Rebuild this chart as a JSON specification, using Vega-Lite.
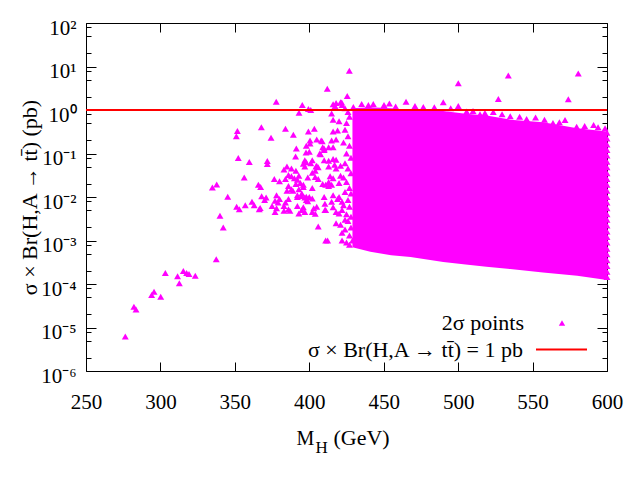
{
  "$schema": "https://vega.github.io/schema/vega-lite/v6.json",
  "description": "sigma x Br(H,A -> ttbar) against M_H, 2 sigma points with the 1 pb line",
  "width": 521,
  "height": 348,
  "autosize": {"type": "none"},
  "padding": {"left": 86, "top": 23, "right": 33, "bottom": 109},
  "background": "white",
  "config": {
    "font": "Liberation Serif",
    "view": {"stroke": null},
    "axis": {
      "grid": false,
      "domainColor": "black",
      "domainWidth": 1,
      "tickColor": "black",
      "tickWidth": 1,
      "labelColor": "black",
      "titleColor": "black",
      "labelFont": "Liberation Serif",
      "titleFont": "Liberation Serif",
      "labelFontSize": 21,
      "titleFontSize": 22,
      "titleFontWeight": "normal",
      "labelFlush": false,
      "labelOverlap": false
    },
    "legend": {
      "labelFont": "Liberation Serif",
      "labelFontSize": 22,
      "labelColor": "black",
      "labelLimit": 0,
      "padding": 0
    }
  },
  "datasets": {
    "band": [
      {"mh": 429, "lo": 0.0007, "hi": 1.1},
      {"mh": 441, "lo": 0.00055, "hi": 1.15},
      {"mh": 455, "lo": 0.00046, "hi": 1.1},
      {"mh": 468, "lo": 0.00042, "hi": 1.0},
      {"mh": 490, "lo": 0.00032, "hi": 0.95},
      {"mh": 505, "lo": 0.00028, "hi": 0.82},
      {"mh": 519, "lo": 0.00025, "hi": 0.75},
      {"mh": 535, "lo": 0.00022, "hi": 0.6},
      {"mh": 557, "lo": 0.000185, "hi": 0.52},
      {"mh": 580, "lo": 0.000155, "hi": 0.38},
      {"mh": 600, "lo": 0.000123, "hi": 0.32}
    ],
    "pts": [
      {"mh": 276.4, "xs": 6.2e-6}, {"mh": 282.2, "xs": 3.0e-5}, {"mh": 283.6, "xs": 2.6e-5},
      {"mh": 294.1, "xs": 5.6e-5}, {"mh": 295.7, "xs": 6.6e-5}, {"mh": 300.2, "xs": 5.1e-5},
      {"mh": 303.3, "xs": 1.8e-4}, {"mh": 311.5, "xs": 1.5e-4}, {"mh": 312.7, "xs": 1.04e-4},
      {"mh": 315.4, "xs": 2.0e-4}, {"mh": 317.6, "xs": 1.8e-4}, {"mh": 319.2, "xs": 1.7e-4},
      {"mh": 323.4, "xs": 1.55e-4}, {"mh": 337.5, "xs": 3.7e-4}, {"mh": 340.0, "xs": 0.0037},
      {"mh": 342.2, "xs": 0.002}, {"mh": 334.9, "xs": 0.0166}, {"mh": 337.8, "xs": 0.0195},
      {"mh": 345.2, "xs": 0.0102},
      {"mh": 351.7, "xs": 0.33}, {"mh": 351.0, "xs": 0.25}, {"mh": 352.3, "xs": 0.079},
      {"mh": 356.3, "xs": 0.028}, {"mh": 359.7, "xs": 0.064}, {"mh": 351.2, "xs": 0.006},
      {"mh": 353.0, "xs": 0.0052}, {"mh": 357.0, "xs": 0.0065}, {"mh": 361.5, "xs": 0.0078},
      {"mh": 366.4, "xs": 0.0052}, {"mh": 363.0, "xs": 0.0065}, {"mh": 367.0, "xs": 0.0056},
      {"mh": 365.8, "xs": 0.019}, {"mh": 367.3, "xs": 0.017}, {"mh": 367.8, "xs": 0.4},
      {"mh": 371.8, "xs": 0.067}, {"mh": 371.8, "xs": 0.057}, {"mh": 374.3, "xs": 0.23},
      {"mh": 376.5, "xs": 0.026}, {"mh": 377.8, "xs": 1.55}, {"mh": 384.0, "xs": 0.37},
      {"mh": 389.3, "xs": 0.27}, {"mh": 395.3, "xs": 1.3}, {"mh": 393.1, "xs": 0.87},
      {"mh": 399.4, "xs": 1.05}, {"mh": 401.0, "xs": 1.0}, {"mh": 399.4, "xs": 0.32},
      {"mh": 403.4, "xs": 0.37}, {"mh": 400.5, "xs": 0.2}, {"mh": 400.5, "xs": 0.17},
      {"mh": 408.7, "xs": 0.19}, {"mh": 410.0, "xs": 0.13}, {"mh": 391.3, "xs": 0.13},
      {"mh": 397.8, "xs": 0.105}, {"mh": 390.8, "xs": 0.085}, {"mh": 407.6, "xs": 0.096},
      {"mh": 398.0, "xs": 0.063}, {"mh": 401.0, "xs": 0.06}, {"mh": 396.0, "xs": 0.058},
      {"mh": 385.0, "xs": 0.05}, {"mh": 388.0, "xs": 0.045}, {"mh": 391.0, "xs": 0.04},
      {"mh": 383.0, "xs": 0.043}, {"mh": 404.5, "xs": 0.05}, {"mh": 404.0, "xs": 0.04},
      {"mh": 402.0, "xs": 0.036}, {"mh": 388.0, "xs": 0.03}, {"mh": 393.0, "xs": 0.031},
      {"mh": 390.0, "xs": 0.027}, {"mh": 386.0, "xs": 0.032}, {"mh": 392.0, "xs": 0.025},
      {"mh": 394.0, "xs": 0.021}, {"mh": 391.0, "xs": 0.02}, {"mh": 396.0, "xs": 0.019},
      {"mh": 399.0, "xs": 0.028}, {"mh": 406.0, "xs": 0.026}, {"mh": 411.0, "xs": 0.019},
      {"mh": 380.0, "xs": 0.023}, {"mh": 384.0, "xs": 0.026}, {"mh": 386.0, "xs": 0.018},
      {"mh": 388.0, "xs": 0.015}, {"mh": 385.0, "xs": 0.014}, {"mh": 389.0, "xs": 0.014},
      {"mh": 393.0, "xs": 0.015}, {"mh": 395.0, "xs": 0.012}, {"mh": 392.0, "xs": 0.011},
      {"mh": 368.0, "xs": 0.0104}, {"mh": 371.0, "xs": 0.0098}, {"mh": 370.0, "xs": 0.0085},
      {"mh": 378.0, "xs": 0.011}, {"mh": 380.0, "xs": 0.009}, {"mh": 377.0, "xs": 0.0082},
      {"mh": 379.0, "xs": 0.0075}, {"mh": 384.0, "xs": 0.0075}, {"mh": 386.0, "xs": 0.009},
      {"mh": 392.0, "xs": 0.01}, {"mh": 395.0, "xs": 0.0105}, {"mh": 397.0, "xs": 0.0098},
      {"mh": 400.0, "xs": 0.01}, {"mh": 398.0, "xs": 0.0085}, {"mh": 399.0, "xs": 0.008},
      {"mh": 402.0, "xs": 0.0092}, {"mh": 375.0, "xs": 0.0062}, {"mh": 378.0, "xs": 0.0055},
      {"mh": 377.0, "xs": 0.0045}, {"mh": 383.0, "xs": 0.0062}, {"mh": 383.0, "xs": 0.0048},
      {"mh": 386.0, "xs": 0.0052}, {"mh": 387.0, "xs": 0.0048}, {"mh": 392.0, "xs": 0.0062},
      {"mh": 395.0, "xs": 0.005}, {"mh": 393.0, "xs": 0.0042}, {"mh": 397.0, "xs": 0.0045},
      {"mh": 403.0, "xs": 0.0055}, {"mh": 402.0, "xs": 0.0045}, {"mh": 404.0, "xs": 0.0041},
      {"mh": 410.5, "xs": 0.007}, {"mh": 410.5, "xs": 0.005}, {"mh": 406.0, "xs": 0.0021},
      {"mh": 412.3, "xs": 0.001},
      {"mh": 426.9, "xs": 8.0}, {"mh": 412.1, "xs": 3.1}, {"mh": 425.5, "xs": 2.1},
      {"mh": 416.0, "xs": 1.35}, {"mh": 418.0, "xs": 1.45}, {"mh": 421.0, "xs": 1.5},
      {"mh": 422.0, "xs": 1.3}, {"mh": 415.0, "xs": 0.83}, {"mh": 416.0, "xs": 0.6},
      {"mh": 420.0, "xs": 0.55}, {"mh": 425.0, "xs": 0.5}, {"mh": 416.0, "xs": 0.32},
      {"mh": 419.0, "xs": 0.34}, {"mh": 405.0, "xs": 0.21}, {"mh": 408.0, "xs": 0.2},
      {"mh": 415.0, "xs": 0.2}, {"mh": 418.0, "xs": 0.21}, {"mh": 398.0, "xs": 0.15},
      {"mh": 400.0, "xs": 0.11}, {"mh": 409.0, "xs": 0.14}, {"mh": 413.0, "xs": 0.14},
      {"mh": 416.0, "xs": 0.14}, {"mh": 407.0, "xs": 0.1}, {"mh": 410.0, "xs": 0.12},
      {"mh": 397.0, "xs": 0.07}, {"mh": 402.0, "xs": 0.07}, {"mh": 410.0, "xs": 0.07},
      {"mh": 413.0, "xs": 0.068}, {"mh": 418.0, "xs": 0.072}, {"mh": 416.0, "xs": 0.075},
      {"mh": 397.0, "xs": 0.05}, {"mh": 405.0, "xs": 0.052}, {"mh": 406.0, "xs": 0.048},
      {"mh": 413.0, "xs": 0.05}, {"mh": 417.0, "xs": 0.055}, {"mh": 418.0, "xs": 0.045},
      {"mh": 421.0, "xs": 0.052}, {"mh": 404.0, "xs": 0.029}, {"mh": 414.0, "xs": 0.03},
      {"mh": 416.0, "xs": 0.027}, {"mh": 421.0, "xs": 0.031}, {"mh": 423.0, "xs": 0.028},
      {"mh": 396.0, "xs": 0.017}, {"mh": 402.0, "xs": 0.016}, {"mh": 409.0, "xs": 0.02},
      {"mh": 413.0, "xs": 0.022}, {"mh": 413.0, "xs": 0.018}, {"mh": 415.0, "xs": 0.019},
      {"mh": 420.0, "xs": 0.021}, {"mh": 398.0, "xs": 0.0102}, {"mh": 410.0, "xs": 0.01},
      {"mh": 416.0, "xs": 0.011}, {"mh": 415.0, "xs": 0.0078}, {"mh": 419.0, "xs": 0.009},
      {"mh": 420.0, "xs": 0.01}, {"mh": 422.0, "xs": 0.0078}, {"mh": 396.0, "xs": 0.0058},
      {"mh": 405.0, "xs": 0.006}, {"mh": 411.0, "xs": 0.005}, {"mh": 416.0, "xs": 0.0058},
      {"mh": 418.0, "xs": 0.0045}, {"mh": 420.0, "xs": 0.0042}, {"mh": 422.0, "xs": 0.005},
      {"mh": 418.0, "xs": 0.0025}, {"mh": 421.0, "xs": 0.0023}, {"mh": 424.0, "xs": 0.003},
      {"mh": 411.0, "xs": 0.001}, {"mh": 422.0, "xs": 0.0015}, {"mh": 422.0, "xs": 0.001},
      {"mh": 425.0, "xs": 0.0009}, {"mh": 427.0, "xs": 0.0008},
      {"mh": 424.0, "xs": 1.1}, {"mh": 426.0, "xs": 0.9}, {"mh": 427.0, "xs": 0.7},
      {"mh": 424.0, "xs": 0.35}, {"mh": 426.0, "xs": 0.25}, {"mh": 423.0, "xs": 0.18},
      {"mh": 427.0, "xs": 0.15}, {"mh": 425.0, "xs": 0.1}, {"mh": 428.0, "xs": 0.08},
      {"mh": 424.0, "xs": 0.06}, {"mh": 426.0, "xs": 0.045}, {"mh": 428.0, "xs": 0.035},
      {"mh": 425.0, "xs": 0.022}, {"mh": 427.0, "xs": 0.016}, {"mh": 424.0, "xs": 0.013},
      {"mh": 428.0, "xs": 0.012}, {"mh": 426.0, "xs": 0.0085}, {"mh": 423.0, "xs": 0.0065},
      {"mh": 427.0, "xs": 0.006}, {"mh": 425.0, "xs": 0.004}, {"mh": 428.0, "xs": 0.0035},
      {"mh": 426.0, "xs": 0.0028}, {"mh": 428.0, "xs": 0.002}, {"mh": 424.0, "xs": 0.0018},
      {"mh": 427.0, "xs": 0.0013}, {"mh": 429.0, "xs": 0.001},
      {"mh": 417.3, "xs": 1.24}, {"mh": 421.8, "xs": 1.48}, {"mh": 429.6, "xs": 1.17},
      {"mh": 435.2, "xs": 1.38}, {"mh": 439.7, "xs": 1.31}, {"mh": 443.0, "xs": 1.38},
      {"mh": 450.2, "xs": 1.31}, {"mh": 453.8, "xs": 1.42}, {"mh": 465.0, "xs": 1.55},
      {"mh": 471.0, "xs": 1.24}, {"mh": 476.6, "xs": 1.17}, {"mh": 490.0, "xs": 1.5},
      {"mh": 500.1, "xs": 1.24}, {"mh": 500.1, "xs": 4.1}, {"mh": 533.7, "xs": 6.2},
      {"mh": 580.7, "xs": 6.9}, {"mh": 527.0, "xs": 1.8}, {"mh": 574.0, "xs": 1.77},
      {"mh": 505.7, "xs": 0.92}, {"mh": 514.7, "xs": 0.8}, {"mh": 523.6, "xs": 0.9},
      {"mh": 529.5, "xs": 0.8}, {"mh": 541.3, "xs": 0.7}, {"mh": 552.0, "xs": 0.67},
      {"mh": 563.7, "xs": 0.5}, {"mh": 571.8, "xs": 0.59}, {"mh": 579.6, "xs": 0.41},
      {"mh": 591.0, "xs": 0.45}, {"mh": 598.7, "xs": 0.38}, {"mh": 458.0, "xs": 1.2},
      {"mh": 484.0, "xs": 1.15}, {"mh": 495.0, "xs": 1.1}, {"mh": 510.0, "xs": 0.95},
      {"mh": 518.0, "xs": 0.85}, {"mh": 535.0, "xs": 0.72}, {"mh": 546.0, "xs": 0.62},
      {"mh": 558.0, "xs": 0.6}, {"mh": 568.0, "xs": 0.52}, {"mh": 585.0, "xs": 0.43},
      {"mh": 594.0, "xs": 0.4},
      {"mh": 600, "xs": 0.3}, {"mh": 600, "xs": 0.22}, {"mh": 600, "xs": 0.16},
      {"mh": 600, "xs": 0.12}, {"mh": 600, "xs": 0.09}, {"mh": 600, "xs": 0.065},
      {"mh": 600, "xs": 0.048}, {"mh": 600, "xs": 0.035}, {"mh": 600, "xs": 0.026},
      {"mh": 600, "xs": 0.019}, {"mh": 600, "xs": 0.014}, {"mh": 600, "xs": 0.01},
      {"mh": 600, "xs": 0.0075}, {"mh": 600, "xs": 0.0055}, {"mh": 600, "xs": 0.004},
      {"mh": 600, "xs": 0.003}, {"mh": 600, "xs": 0.0022}, {"mh": 600, "xs": 0.0016},
      {"mh": 600, "xs": 0.0012}, {"mh": 600, "xs": 0.0009}, {"mh": 600, "xs": 0.00065},
      {"mh": 600, "xs": 0.00048}, {"mh": 600, "xs": 0.00035}, {"mh": 600, "xs": 0.00026},
      {"mh": 600, "xs": 0.00019}, {"mh": 600, "xs": 0.000145}
    ],
    "limit": [
      {"xs": 1, "label": "σ × Br(H,A → tt\u0304) = 1 pb"}
    ]
  },
  "layer": [
    {
      "data": {"name": "band"},
      "mark": {"type": "area", "color": "#ff00ff", "opacity": 1, "orient": "vertical"},
      "encoding": {
        "x": {
          "field": "mh",
          "type": "quantitative",
          "scale": {"domain": [250, 600], "nice": false, "zero": false},
          "axis": {
            "orient": "bottom",
            "values": [250, 300, 350, 400, 450, 500, 550, 600],
            "format": "d",
            "tickSize": -9,
            "labelPadding": 29,
            "title": "M",
            "titleFontSize": 20,
            "titleX": 210,
            "titleY": 73,
            "titleAlign": "left",
            "titleBaseline": "alphabetic"
          }
        },
        "y": {
          "field": "lo",
          "type": "quantitative",
          "scale": {"type": "log", "domain": [1e-6, 100], "nice": false},
          "axis": {
            "orient": "left",
            "values": [1e-6, 2e-6, 5e-6, 8e-6, 1e-5, 2e-5, 5e-5, 8e-5, 1e-4, 2e-4, 5e-4, 8e-4, 0.001, 0.002, 0.005, 0.008, 0.01, 0.02, 0.05, 0.08, 0.1, 0.2, 0.5, 0.8, 1, 2, 5, 8, 10, 20, 50, 80, 100],
            "labelExpr": "abs(log(datum.value)/LN10 - round(log(datum.value)/LN10)) > 0.01 ? '' : '10' + (datum.value < 0.5 ? '⁻' : '') + substring('⁰¹²³⁴⁵⁶⁷⁸⁹', abs(round(log(datum.value)/LN10)), abs(round(log(datum.value)/LN10)) + 1)",
            "tickSize": {"condition": {"test": "abs(log(datum.value)/LN10 - round(log(datum.value)/LN10)) < 0.01", "value": -10}, "value": -5},
            "labelPadding": 20,
            "labelOffset": 5,
            "title": "σ × Br(H,A → tt\u0304) (pb)",
            "titleX": -50,
            "titleY": 174,
            "titleAlign": "center",
            "titleBaseline": "alphabetic",
            "titleAngle": -90
          }
        },
        "y2": {"field": "hi"}
      }
    },
    {
      "data": {"name": "pts"},
      "mark": {"type": "point", "filled": true, "color": "#ff00ff", "opacity": 1, "size": 48, "strokeWidth": 0},
      "encoding": {
        "x": {
          "field": "mh",
          "type": "quantitative",
          "scale": {"domain": [250, 600], "nice": false, "zero": false},
          "axis": {
            "orient": "top",
            "values": [250, 300, 350, 400, 450, 500, 550, 600],
            "labels": false,
            "tickSize": -9,
            "title": "H",
            "titleFontSize": 17,
            "titleX": 229,
            "titleY": 429.5,
            "titleAlign": "left",
            "titleBaseline": "alphabetic"
          }
        },
        "y": {
          "field": "xs",
          "type": "quantitative",
          "scale": {"type": "log", "domain": [1e-6, 100], "nice": false},
          "axis": {
            "orient": "right",
            "values": [1e-6, 2e-6, 5e-6, 8e-6, 1e-5, 2e-5, 5e-5, 8e-5, 1e-4, 2e-4, 5e-4, 8e-4, 0.001, 0.002, 0.005, 0.008, 0.01, 0.02, 0.05, 0.08, 0.1, 0.2, 0.5, 0.8, 1, 2, 5, 8, 10, 20, 50, 80, 100],
            "labels": false,
            "tickSize": {"condition": {"test": "abs(log(datum.value)/LN10 - round(log(datum.value)/LN10)) < 0.01", "value": -10}, "value": -5},
            "title": "(GeV)",
            "titleFontSize": 22,
            "titleAngle": 0,
            "titleX": -274,
            "titleY": 421,
            "titleAlign": "left",
            "titleBaseline": "alphabetic"
          }
        },
        "shape": {
          "datum": "2σ points",
          "scale": {"range": ["triangle-up"]},
          "legend": {
            "orient": "none",
            "legendX": 465,
            "legendY": 289,
            "title": null,
            "labelAlign": "right",
            "labelOffset": -49,
            "symbolSize": 40,
            "symbolFillColor": "#ff00ff",
            "symbolStrokeWidth": 0
          }
        }
      }
    },
    {
      "data": {"name": "limit"},
      "mark": {"type": "rule", "strokeWidth": 2},
      "encoding": {
        "y": {
          "field": "xs",
          "type": "quantitative",
          "scale": {"type": "log", "domain": [1e-6, 100], "nice": false},
          "axis": null
        },
        "color": {
          "field": "label",
          "type": "nominal",
          "scale": {"range": ["#ff0000"]},
          "legend": {
            "orient": "none",
            "legendX": 449,
            "legendY": 300,
            "title": null,
            "labelAlign": "right",
            "labelOffset": -65,
            "symbolType": "stroke",
            "symbolSize": 2601,
            "symbolStrokeWidth": 2
          }
        }
      }
    }
  ],
  "resolve": {"axis": {"x": "independent", "y": "independent"}}
}
